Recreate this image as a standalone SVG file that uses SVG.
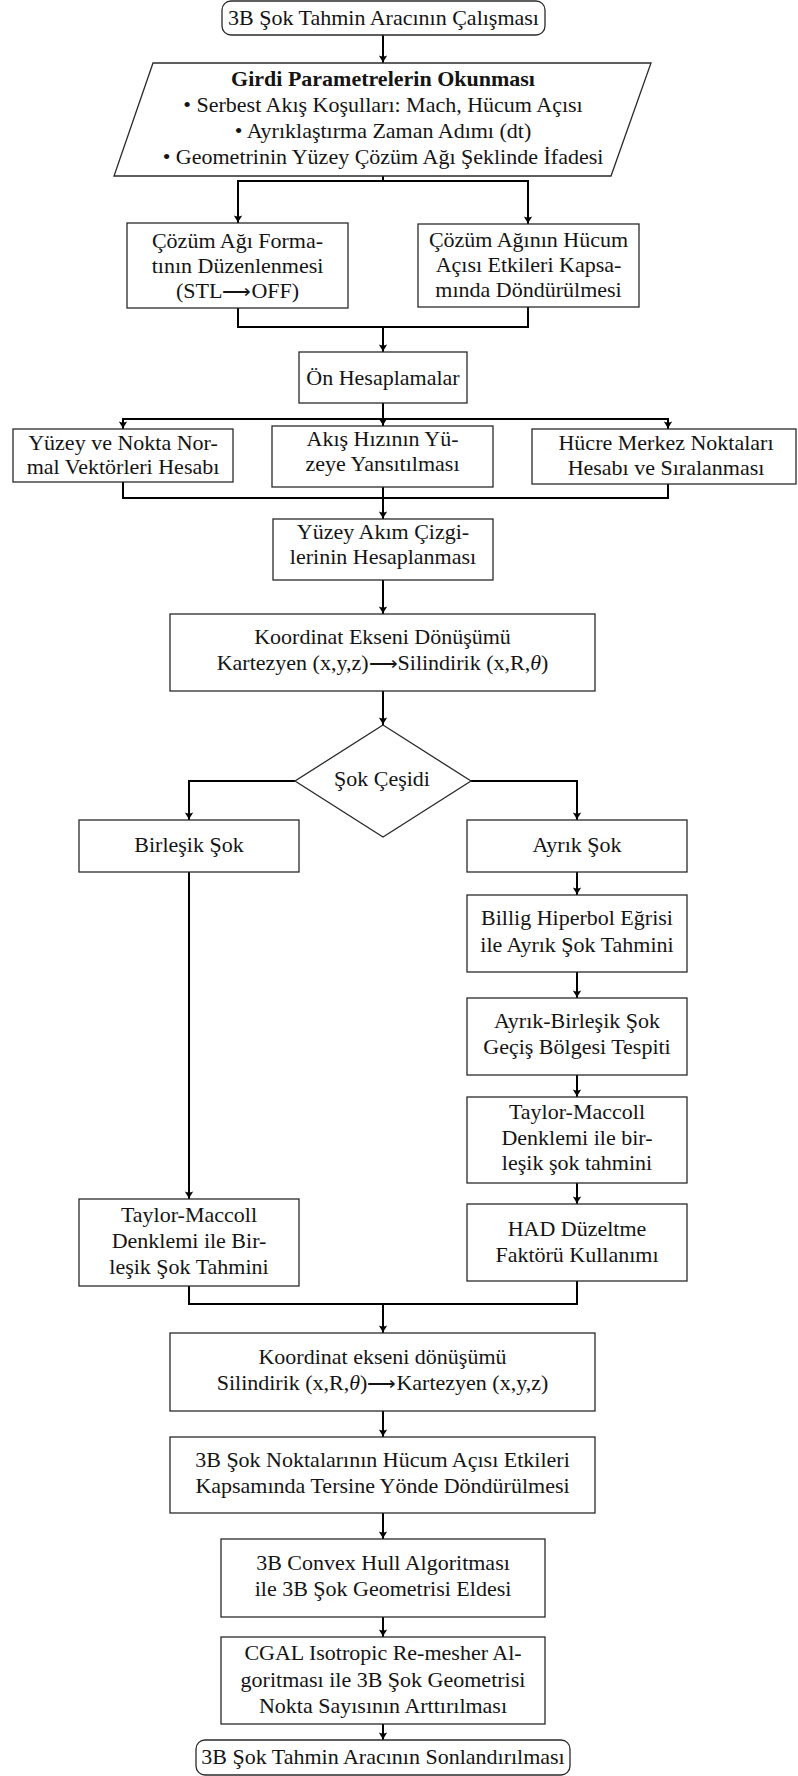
<svg xmlns="http://www.w3.org/2000/svg" width="798" height="1776" viewBox="0 0 798 1776">
  <style>
    .box { fill: #ffffff; stroke: #2a2a2a; stroke-width: 1.3; }
    .wire { fill: none; stroke: #000000; stroke-width: 2; }
    .arrow { fill: none; stroke: #000000; stroke-width: 2; marker-end: url(#tip); }
    text { font-family: "Liberation Serif", "Times New Roman", "DejaVu Serif", serif; font-size: 22px; fill: #141414; text-anchor: middle; }
    .bold { font-weight: bold; }
    .sym { font-family: "DejaVu Sans", "Noto Sans", sans-serif; font-size: 20px; font-weight: 200; }
  </style>
  <defs>
    <marker id="tip" markerUnits="userSpaceOnUse" markerWidth="10" markerHeight="10" viewBox="-8 -5 9 10" refX="0" refY="0" orient="auto">
      <path d="M-7.5,-4.2 Q-3,-1.2 0,0 Q-3,1.2 -7.5,4.2 Q-5.5,0 -7.5,-4.2 Z" fill="#000000"/>
    </marker>
  </defs>

  <!-- connectors -->
  <g id="connectors">
    <line class="arrow" x1="383" y1="35" x2="383" y2="63"/>
    <path class="wire" d="M383,176 V181 M238,181 H528"/>
    <line class="arrow" x1="238" y1="180" x2="238" y2="223"/>
    <line class="arrow" x1="528" y1="180" x2="528" y2="224"/>
    <path class="wire" d="M238,308 V327 M528,307 V327 M237,327 H529"/>
    <line class="arrow" x1="383" y1="327" x2="383" y2="352"/>
    <path class="wire" d="M383,403 V419 M122,419 H669"/>
    <line class="arrow" x1="123" y1="418" x2="123" y2="429"/>
    <line class="arrow" x1="383" y1="418" x2="383" y2="426"/>
    <line class="arrow" x1="668" y1="418" x2="668" y2="429"/>
    <path class="wire" d="M123,482 V498 M383,487 V498 M668,484 V498 M122,498 H669"/>
    <line class="arrow" x1="383" y1="498" x2="383" y2="519"/>
    <line class="arrow" x1="383" y1="580" x2="383" y2="614"/>
    <line class="arrow" x1="383" y1="691" x2="383" y2="725"/>
    <path class="arrow" d="M295,781 H189 V820"/>
    <path class="arrow" d="M471,781 H577 V820"/>
    <line class="arrow" x1="189" y1="872" x2="189" y2="1199"/>
    <line class="arrow" x1="577" y1="872" x2="577" y2="895"/>
    <line class="arrow" x1="577" y1="972" x2="577" y2="998"/>
    <line class="arrow" x1="577" y1="1075" x2="577" y2="1097"/>
    <line class="arrow" x1="577" y1="1183" x2="577" y2="1204"/>
    <path class="wire" d="M189,1286 V1304 M577,1281 V1304 M188,1304 H578"/>
    <line class="arrow" x1="383" y1="1304" x2="383" y2="1333"/>
    <line class="arrow" x1="383" y1="1411" x2="383" y2="1437"/>
    <line class="arrow" x1="383" y1="1513" x2="383" y2="1539"/>
    <line class="arrow" x1="383" y1="1617" x2="383" y2="1637"/>
    <line class="arrow" x1="383" y1="1724" x2="383" y2="1740"/>
  </g>

  <!-- start terminal -->
  <g id="start">
    <rect class="box" x="222" y="1" width="323" height="34" rx="9"/>
    <text x="383.5" y="25">3B Şok Tahmin Aracının Çalışması</text>
  </g>

  <!-- input parameters -->
  <g id="input">
    <polygon class="box" points="153,63 651,63 611,176 114,176"/>
    <text class="bold" x="383" y="86">Girdi Parametrelerin Okunması</text>
    <text x="383" y="112">• Serbest Akış Koşulları: Mach, Hücum Açısı</text>
    <text x="383" y="138">• Ayrıklaştırma Zaman Adımı (dt)</text>
    <text x="383" y="164">• Geometrinin Yüzey Çözüm Ağı Şeklinde İfadesi</text>
  </g>

  <g id="mesh-format">
    <rect class="box" x="127" y="223" width="221" height="85"/>
    <text x="237.5" y="248">Çözüm Ağı Forma-</text>
    <text x="237.5" y="273">tının Düzenlenmesi</text>
    <text x="237.5" y="298">(STL<tspan class="sym">⟶</tspan>OFF)</text>
  </g>

  <g id="mesh-rotate">
    <rect class="box" x="418" y="224" width="221" height="83"/>
    <text x="528.5" y="247">Çözüm Ağının Hücum</text>
    <text x="528.5" y="272">Açısı Etkileri Kapsa-</text>
    <text x="528.5" y="297">mında Döndürülmesi</text>
  </g>

  <g id="precalc">
    <rect class="box" x="299" y="352" width="168" height="51"/>
    <text x="383" y="385">Ön Hesaplamalar</text>
  </g>

  <g id="normals">
    <rect class="box" x="13" y="429" width="220" height="53"/>
    <text x="123" y="450">Yüzey ve Nokta Nor-</text>
    <text x="123" y="474">mal Vektörleri Hesabı</text>
  </g>

  <g id="velocity">
    <rect class="box" x="272" y="426" width="221" height="61"/>
    <text x="382.5" y="446">Akış Hızının Yü-</text>
    <text x="382.5" y="471">zeye Yansıtılması</text>
  </g>

  <g id="centers">
    <rect class="box" x="532" y="429" width="264" height="55"/>
    <text x="666" y="450">Hücre Merkez Noktaları</text>
    <text x="666" y="475">Hesabı ve Sıralanması</text>
  </g>

  <g id="streamlines">
    <rect class="box" x="273" y="519" width="220" height="61"/>
    <text x="383" y="539">Yüzey Akım Çizgi-</text>
    <text x="383" y="564">lerinin Hesaplanması</text>
  </g>

  <g id="to-cylindrical">
    <rect class="box" x="170" y="614" width="425" height="77"/>
    <text x="382.5" y="644">Koordinat Ekseni Dönüşümü</text>
    <text x="382.5" y="670">Kartezyen (x,y,z)<tspan class="sym">⟶</tspan>Silindirik (x,R,<tspan font-style="italic">θ</tspan>)</text>
  </g>

  <g id="shock-type">
    <polygon class="box" points="383,725 471,781 383,837 295,781"/>
    <text x="382" y="786">Şok Çeşidi</text>
  </g>

  <g id="attached">
    <rect class="box" x="79" y="820" width="220" height="52"/>
    <text x="189" y="852">Birleşik Şok</text>
  </g>

  <g id="detached">
    <rect class="box" x="467" y="820" width="220" height="52"/>
    <text x="577" y="852">Ayrık Şok</text>
  </g>

  <g id="billig">
    <rect class="box" x="467" y="895" width="220" height="77"/>
    <text x="577" y="925">Billig Hiperbol Eğrisi</text>
    <text x="577" y="951.5">ile Ayrık Şok Tahmini</text>
  </g>

  <g id="transition">
    <rect class="box" x="467" y="998" width="220" height="77"/>
    <text x="577" y="1028">Ayrık-Birleşik Şok</text>
    <text x="577" y="1054">Geçiş Bölgesi Tespiti</text>
  </g>

  <g id="taylor-right">
    <rect class="box" x="467" y="1097" width="220" height="86"/>
    <text x="577" y="1118.5">Taylor-Maccoll</text>
    <text x="577" y="1144.5">Denklemi ile bir-</text>
    <text x="577" y="1170">leşik şok tahmini</text>
  </g>

  <g id="cfd-factor">
    <rect class="box" x="467" y="1204" width="220" height="77"/>
    <text x="577" y="1236">HAD Düzeltme</text>
    <text x="577" y="1262">Faktörü Kullanımı</text>
  </g>

  <g id="taylor-left">
    <rect class="box" x="79" y="1199" width="220" height="87"/>
    <text x="189" y="1222">Taylor-Maccoll</text>
    <text x="189" y="1248">Denklemi ile Bir-</text>
    <text x="189" y="1274">leşik Şok Tahmini</text>
  </g>

  <g id="to-cartesian">
    <rect class="box" x="170" y="1333" width="425" height="78"/>
    <text x="382.5" y="1363.5">Koordinat ekseni dönüşümü</text>
    <text x="382.5" y="1390">Silindirik (x,R,<tspan font-style="italic">θ</tspan>)<tspan class="sym">⟶</tspan>Kartezyen (x,y,z)</text>
  </g>

  <g id="rotate-back">
    <rect class="box" x="170" y="1437" width="425" height="76"/>
    <text x="382.5" y="1467">3B Şok Noktalarının Hücum Açısı Etkileri</text>
    <text x="382.5" y="1492.5">Kapsamında Tersine Yönde Döndürülmesi</text>
  </g>

  <g id="convex-hull">
    <rect class="box" x="221" y="1539" width="324" height="78"/>
    <text x="383" y="1570">3B Convex Hull Algoritması</text>
    <text x="383" y="1596">ile 3B Şok Geometrisi Eldesi</text>
  </g>

  <g id="remesh">
    <rect class="box" x="221" y="1637" width="324" height="87"/>
    <text x="383" y="1660">CGAL Isotropic Re-mesher Al-</text>
    <text x="383" y="1686.5">goritması ile 3B Şok Geometrisi</text>
    <text x="383" y="1712.5">Nokta Sayısının Arttırılması</text>
  </g>

  <g id="end">
    <rect class="box" x="196" y="1740" width="374" height="35" rx="9"/>
    <text x="383" y="1764">3B Şok Tahmin Aracının Sonlandırılması</text>
  </g>
</svg>
